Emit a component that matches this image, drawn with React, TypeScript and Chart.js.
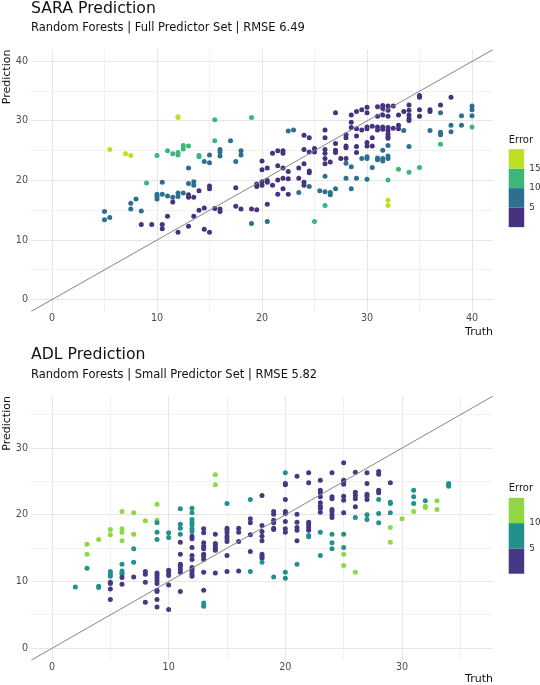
import React, { useEffect, useRef } from "react";
import { Chart, registerables } from "chart.js";

Chart.register(...registerables);

const FONT = "'DejaVu Sans', sans-serif";
const MAJOR_GRID = "#e6e6e6";
const MINOR_GRID = "#f1f1f1";

// ---------------- SARA (top panel) ----------------
const saraTitle = "SARA Prediction";
const saraSubtitle = "Random Forests | Full Predictor Set | RMSE 6.49";
const saraLimits = [-2, 42];
const saraBreaks = [5, 10, 15];
const saraColors = ["#46327e", "#2d6f8e", "#3bb77a", "#bddf26"];

const saraTruth = [
  5, 5,
  5.5, 5.5,
  7,
  7.5, 7.5, 7.5,
  8,
  8.5, 8.5,
  9,
  9.5,
  10, 10, 10, 10,
  10.5, 10.5, 10.5, 10.5,
  11, 11, 11,
  11.5, 11.5, 11.5,
  12, 12, 12, 12, 12, 12, 12,
  12.5, 12.5, 12.5,
  13, 13, 13, 13, 13, 13,
  13.5, 13.5, 13.5, 13.5,
  14, 14, 14, 14,
  14.5, 14.5, 14.5,
  15, 15, 15, 15, 15,
  15.5, 15.5, 15.5,
  16, 16, 16, 16, 16,
  17,
  17.5, 17.5, 17.5,
  18, 18, 18,
  19, 19, 19,
  19.5, 19.5, 19.5,
  20, 20, 20, 20,
  20.5, 20.5, 20.5, 20.5, 20.5,
  21, 21,
  21.5, 21.5, 21.5, 21.5,
  22, 22, 22, 22, 22,
  22.5, 22.5, 22.5, 22.5,
  23,
  23.5, 23.5, 23.5,
  24, 24, 24, 24, 24,
  24.5, 24.5, 24.5, 24.5, 24.5,
  25, 25, 25,
  25.5,
  26, 26, 26, 26, 26, 26, 26, 26, 26,
  26.5, 26.5, 26.5,
  27, 27, 27, 27, 27,
  27.5,
  28, 28, 28, 28, 28, 28, 28,
  28.5, 28.5, 28.5, 28.5, 28.5,
  29, 29, 29, 29, 29, 29,
  29.5, 29.5, 29.5,
  30, 30, 30, 30, 30, 30, 30, 30, 30,
  30.5, 30.5, 30.5, 30.5,
  31, 31, 31, 31, 31, 31,
  31.5, 31.5, 31.5, 31.5, 31.5, 31.5, 31.5, 31.5,
  32, 32, 32, 32, 32, 32, 32, 32, 32, 32, 32, 32, 32, 32,
  32.5, 32.5,
  33, 33, 33, 33,
  33.5, 33.5,
  34, 34, 34, 34, 34, 34, 34,
  35, 35, 35, 35, 35,
  36, 36, 36,
  37, 37, 37, 37, 37,
  38, 38, 38,
  39, 39,
  40, 40, 40, 40,
];

const saraPred = [
  14.8, 13.4,
  25.2, 13.8,
  24.5,
  24.2, 16.2, 15.2,
  16.9,
  14.9, 12.6,
  19.6,
  12.6,
  24.2, 17.7, 17.3, 16.9,
  19.7, 17.7, 12.6, 11.9,
  25.0, 17.4, 14.0,
  24.5, 17.2, 16.4,
  30.7, 30.6, 24.7, 24.3, 17.9, 17.3, 11.3,
  25.9, 25.3, 17.9,
  25.8, 22.1, 19.5, 17.6, 17.2, 12.3,
  19.8, 19.2, 17.2, 14.0,
  24.2, 24.0, 18.3, 15.0,
  23.2, 15.4, 11.8,
  24.3, 23.0, 19.1, 18.6, 11.3,
  30.2, 26.7, 15.3,
  25.2, 24.8, 24.1, 15.2, 14.8,
  26.7,
  23.2, 18.8, 15.7,
  25.0, 24.3, 15.2,
  30.6, 15.2, 12.8,
  19.4, 19.0, 15.1,
  23.3, 21.8, 19.8, 19.2,
  22.1, 20.0, 19.7, 16.0, 13.1,
  24.6, 19.2,
  25.0, 22.5, 20.1, 17.7,
  25.0, 24.6, 22.1, 20.4, 18.6,
  28.3, 21.5, 20.3, 17.7,
  28.5,
  22.1, 20.4, 18.0,
  27.6, 25.2, 22.8, 19.7, 19.2,
  27.2, 24.8, 21.6, 21.3, 19.0,
  25.4, 24.8, 13.1,
  18.3,
  28.5, 27.2, 25.2, 24.6, 23.7, 22.8, 20.7, 18.1, 15.8,
  23.1, 18.0, 17.6,
  31.4, 26.2, 25.1, 24.7, 18.6,
  23.7,
  27.7, 27.2, 25.8, 25.5, 23.7, 22.9, 20.4,
  31.0, 29.8, 28.9, 22.3, 18.6,
  31.6, 28.7, 27.5, 25.7, 24.7, 20.4,
  31.9, 28.5, 23.7,
  32.3, 31.4, 29.0, 28.7, 26.4, 25.8, 24.0, 23.7, 20.2,
  29.1, 27.2, 25.8, 22.2,
  32.4, 30.8, 29.0, 28.5, 23.8, 23.5,
  32.6, 32.1, 31.0, 29.0, 28.6, 25.1, 23.7, 23.3,
  32.5, 31.8, 30.8, 28.9, 28.4, 27.8, 27.4, 27.1, 25.9, 24.1, 23.7, 20.1, 16.7, 15.8,
  32.5, 28.8,
  31.0, 29.3, 28.7, 21.9,
  31.6, 28.4,
  32.7, 31.8, 31.0, 30.4, 30.1, 25.7, 21.4,
  34.3, 34.0, 31.9, 30.8, 22.2,
  31.9, 31.6, 28.4,
  32.7, 31.4, 28.1, 27.7, 26.1,
  34.0, 29.3, 28.2,
  30.9, 29.3,
  32.5, 31.9, 30.9, 29.0,
];

// ---------------- ADL (bottom panel) ----------------
const adlTitle = "ADL Prediction";
const adlSubtitle = "Random Forests | Small Predictor Set | RMSE 5.82";
const adlLimits = [-1.8, 37.8];
const adlBreaks = [5, 10];
const adlColors = ["#443a83", "#22908c", "#8fd744"];

const adlTruth = [
  2,
  3, 3, 3,
  4, 4, 4,
  5, 5, 5, 5, 5, 5, 5, 5, 5,
  6, 6, 6, 6, 6, 6, 6, 6, 6, 6,
  7, 7, 7, 7, 7,
  8, 8, 8, 8, 8,
  9, 9, 9, 9, 9, 9, 9, 9, 9, 9, 9, 9, 9, 9,
  10, 10, 10, 10, 10, 10, 10,
  11, 11, 11, 11, 11, 11, 11, 11, 11, 11, 11,
  12, 12, 12, 12, 12, 12, 12, 12, 12, 12, 12, 12, 12, 12, 12, 12, 12,
  13, 13, 13, 13, 13, 13, 13, 13, 13, 13, 13, 13,
  14, 14, 14, 14, 14, 14, 14, 14,
  15, 15, 15, 15, 15, 15, 15, 15, 15,
  16, 16, 16, 16,
  17, 17, 17, 17, 17, 17,
  18, 18, 18, 18, 18, 18, 18, 18, 18,
  19, 19, 19, 19, 19, 19, 19,
  20, 20, 20, 20, 20, 20, 20, 20, 20, 20, 20,
  21, 21, 21, 21, 21, 21, 21,
  22, 22, 22, 22, 22, 22, 22, 22,
  23, 23, 23, 23, 23, 23, 23, 23, 23, 23,
  24, 24, 24, 24, 24, 24, 24, 24, 24, 24,
  25, 25, 25, 25, 25, 25, 25, 25, 25, 25, 25,
  26, 26, 26, 26, 26, 26, 26,
  27, 27, 27, 27, 27, 27, 27,
  28, 28, 28, 28, 28, 28, 28,
  29, 29, 29, 29, 29, 29,
  30,
  31, 31, 31, 31,
  32, 32, 32,
  33, 33,
  34, 34, 34,
];

const adlPred = [
  9.2,
  15.6, 14.1, 12.0,
  16.3, 9.3, 9.1,
  17.8, 17.0, 11.5, 11.1, 10.8, 9.9, 9.7, 8.9, 7.3,
  20.5, 17.9, 17.4, 16.1, 12.6, 11.6, 11.3, 11.1, 10.6, 9.6,
  20.3, 17.1, 14.9, 12.9, 10.7,
  19.1, 11.5, 11.1, 9.9, 6.9,
  21.6, 19.2, 18.8, 17.4, 16.3, 11.3, 11.0, 10.6, 10.2, 9.7, 8.7, 8.5, 7.3, 6.2,
  17.3, 16.6, 11.7, 11.3, 10.9, 9.5, 5.8,
  20.9, 18.6, 18.0, 17.1, 15.9, 14.1, 12.6, 12.3, 11.8, 11.4, 8.5,
  21.0, 20.3, 19.3, 18.9, 18.5, 17.9, 17.5, 16.8, 16.4, 15.1, 13.9, 13.3, 12.1, 11.8, 11.5, 11.1, 10.8,
  17.9, 17.3, 15.8, 15.3, 14.9, 14.1, 13.8, 13.3, 11.4, 8.7, 6.8, 6.3,
  26.0, 24.5, 17.1, 15.7, 15.4, 15.0, 14.7, 11.3,
  21.7, 18.0, 17.7, 17.3, 16.8, 16.4, 16.0, 13.9, 11.5,
  18.0, 17.4, 16.0, 11.6,
  22.3, 19.4, 18.8, 17.0, 14.5, 11.5,
  22.9, 18.4, 17.5, 16.8, 16.1, 14.1, 13.8, 13.5, 12.9,
  20.5, 20.1, 19.2, 18.8, 18.0, 17.8, 10.7,
  26.3, 24.7, 24.5, 22.3, 20.5, 20.2, 19.0, 17.9, 17.4, 11.4, 10.5,
  25.8, 20.1, 18.9, 18.1, 17.7, 16.1, 12.6,
  26.3, 24.8, 18.9, 18.5, 18.1, 17.7, 16.9, 16.7,
  25.2, 23.7, 23.3, 22.7, 21.8, 21.3, 21.0, 20.4, 17.4, 13.9,
  26.3, 22.7, 22.4, 20.8, 20.5, 20.0, 19.6, 17.1, 15.8, 14.9,
  27.8, 25.2, 24.9, 24.6, 22.8, 22.2, 20.3, 17.1, 15.1, 14.1, 12.4,
  26.4, 23.4, 22.9, 22.4, 21.2, 19.6, 11.4,
  26.3, 24.7, 23.1, 22.8, 22.3, 20.0, 19.3,
  26.5, 26.1, 23.7, 23.3, 22.3, 20.2, 18.8,
  24.8, 21.9, 21.7, 20.3, 18.1, 15.9,
  19.4,
  23.7, 22.7, 21.7, 20.5,
  22.1, 21.3, 21.1,
  22.1, 20.8,
  24.7, 24.5, 24.3,
];

const legendTitle = "Error";
const xTitle = "Truth";
const yTitle = "Prediction";

type PanelSpec = {
  top: number;
  height: number;
  title: string;
  subtitle: string;
  truth: number[];
  pred: number[];
  limits: number[];
  breaks: number[];
  colors: string[];
  binHeight: number;
  titleTopPad: number;
  subtitleTopPad: number;
  subtitleBottomPad: number;
  xAxisHeight: number;
  xTickPad: number;
  xTitlePad: number;
};

function colorFor(err: number, breaks: number[], colors: string[]) {
  let idx = 0;
  for (const b of breaks) if (err >= b) idx++;
  return colors[idx];
}

function makeLegendPlugin(spec: PanelSpec) {
  return {
    id: "binLegend",
    afterDraw(chart: any) {
      const { ctx, chartArea } = chart;
      const n = spec.colors.length;
      const barH = spec.binHeight * n;
      const cy = (chartArea.top + chartArea.bottom) / 2 + 7.6;
      const top = cy - barH / 2;
      const x = chartArea.right + 15.7;
      ctx.save();
      ctx.textBaseline = "middle";
      ctx.textAlign = "left";
      ctx.font = `10px ${FONT}`;
      ctx.fillStyle = "#1a1a1a";
      ctx.fillText(legendTitle, x, top - 9);
      spec.colors.forEach((c, i) => {
        ctx.fillStyle = c;
        ctx.fillRect(x, top + barH - (i + 1) * spec.binHeight, 15.5, spec.binHeight);
      });
      ctx.font = `8.8px ${FONT}`;
      ctx.fillStyle = "#333333";
      spec.breaks.forEach((b, i) => {
        ctx.fillText(String(b), x + 20.6, top + barH - (i + 1) * spec.binHeight);
      });
      ctx.restore();
    },
  };
}

function Panel({ spec }: { spec: PanelSpec }) {
  const ref = useRef<HTMLCanvasElement | null>(null);
  useEffect(() => {
    if (!ref.current) return;
    const points = spec.truth.map((t, i) => ({ x: t, y: spec.pred[i] }));
    const pointColors = spec.truth.map((t, i) =>
      colorFor(Math.abs(t - spec.pred[i]), spec.breaks, spec.colors)
    );
    const [lo, hi] = spec.limits;
    const gridColor = (ctx: any) =>
      ctx.tick && Math.abs(ctx.tick.value % 10) < 1e-9 ? MAJOR_GRID : MINOR_GRID;
    const tickCb = (v: any) => (Math.abs(Number(v) % 10) < 1e-9 ? String(v) : "");
    const chart = new Chart(ref.current, {
      type: "scatter",
      data: {
        datasets: [
          {
            type: "line",
            data: [
              { x: lo, y: lo },
              { x: hi, y: hi },
            ],
            borderColor: "#858585",
            borderWidth: 1,
            pointRadius: 0,
            fill: false,
            order: 0,
          } as any,
          {
            data: points,
            pointBackgroundColor: pointColors,
            pointBorderWidth: 0,
            pointRadius: 2.5,
            pointHoverRadius: 2.5,
            order: 1,
          },
        ],
      },
      options: {
        animation: false,
        responsive: false,
        devicePixelRatio: 1,
        layout: { padding: { left: 0, right: 47, top: 0, bottom: 0 } },
        plugins: {
          legend: { display: false },
          tooltip: { enabled: false },
          title: {
            display: true,
            text: spec.title,
            align: "start",
            fullSize: false,
            color: "#111111",
            font: { family: FONT, size: 15.7, weight: "normal", lineHeight: 1.15 },
            padding: { top: spec.titleTopPad, bottom: 0 },
          },
          subtitle: {
            display: true,
            text: spec.subtitle,
            align: "start",
            fullSize: false,
            color: "#111111",
            font: { family: FONT, size: 11.5, weight: "normal", lineHeight: 1.2 },
            padding: { top: spec.subtitleTopPad, bottom: spec.subtitleBottomPad },
          },
        },
        scales: {
          x: {
            type: "linear",
            min: lo,
            max: hi,
            afterFit: (s: any) => {
              s.height = spec.xAxisHeight;
            },
            border: { display: false },
            grid: { color: gridColor, lineWidth: 1, drawTicks: false },
            ticks: {
              stepSize: 5,
              includeBounds: false,
              autoSkip: false,
              maxRotation: 0,
              padding: spec.xTickPad,
              color: "#4d4d4d",
              font: { family: FONT, size: 9.6 },
              callback: tickCb,
            },
            title: {
              display: true,
              text: xTitle,
              align: "end",
              color: "#111111",
              font: { family: FONT, size: 11, lineHeight: 1.0 },
              padding: { top: 0, bottom: spec.xTitlePad },
            },
          },
          y: {
            type: "linear",
            min: lo,
            max: hi,
            afterFit: (s: any) => {
              s.width = 31;
            },
            border: { display: false },
            grid: { color: gridColor, lineWidth: 1, drawTicks: false },
            ticks: {
              stepSize: 5,
              includeBounds: false,
              autoSkip: false,
              padding: 3,
              color: "#4d4d4d",
              font: { family: FONT, size: 9.6 },
              callback: tickCb,
            },
            title: {
              display: true,
              text: yTitle,
              align: "end",
              color: "#111111",
              font: { family: FONT, size: 11, lineHeight: 1.0 },
              padding: { top: 2, bottom: 0 },
            },
          },
        },
      } as any,
      plugins: [makeLegendPlugin(spec)],
    });
    return () => chart.destroy();
  }, [spec]);
  return (
    <div style={{ position: "absolute", left: 0, top: spec.top, width: 540, height: spec.height }}>
      <canvas ref={ref} width={540} height={spec.height} style={{ display: "block" }} />
    </div>
  );
}

const saraSpec: PanelSpec = {
  top: 0,
  height: 340,
  title: saraTitle,
  subtitle: saraSubtitle,
  truth: saraTruth,
  pred: saraPred,
  limits: saraLimits,
  breaks: saraBreaks,
  colors: saraColors,
  binHeight: 19.5,
  titleTopPad: 0,
  subtitleTopPad: 3.5,
  subtitleBottomPad: 14.2,
  xAxisHeight: 28.5,
  xTickPad: 1.5,
  xTitlePad: 2,
};

const adlSpec: PanelSpec = {
  top: 340,
  height: 345,
  title: adlTitle,
  subtitle: adlSubtitle,
  truth: adlTruth,
  pred: adlPred,
  limits: adlLimits,
  breaks: adlBreaks,
  colors: adlColors,
  binHeight: 25.3,
  titleTopPad: 6,
  subtitleTopPad: 4,
  subtitleBottomPad: 14.2,
  xAxisHeight: 24.7,
  xTickPad: 1,
  xTitlePad: 0,
};

export default function App() {
  return (
    <div style={{ position: "absolute", left: 0, top: 0, width: 540, height: 685, background: "#ffffff" }}>
      <Panel spec={saraSpec} />
      <Panel spec={adlSpec} />
    </div>
  );
}
